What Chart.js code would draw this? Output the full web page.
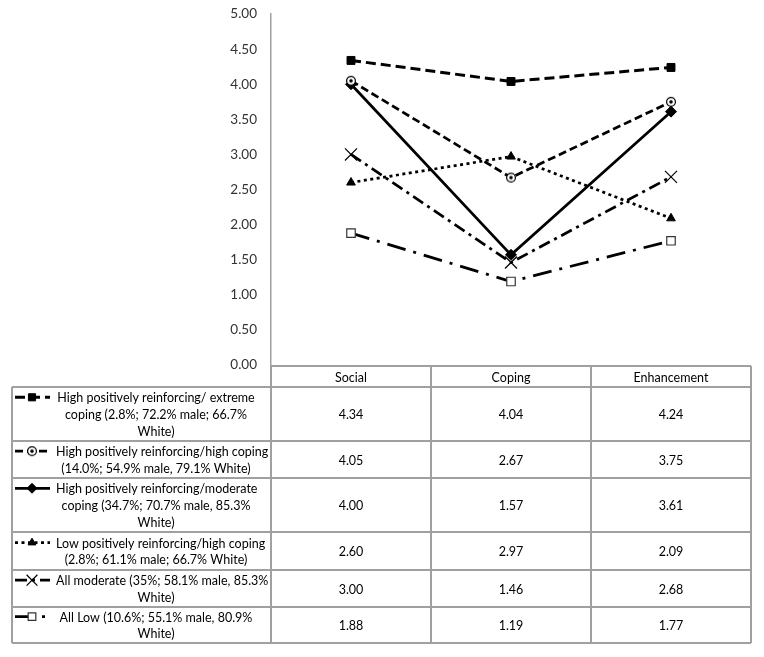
<!DOCTYPE html>
<html><head><meta charset="utf-8">
<script src="https://cdn.jsdelivr.net/npm/chart.js@4/dist/chart.umd.min.js"></script>
<style>html,body{margin:0;padding:0;background:#fff}#wrap{width:764px;height:657px;position:relative}canvas{display:block}</style>
</head><body><div id="wrap"><canvas id="c" width="764" height="657"></canvas></div>
<script>
// ---- data ----
const categories = ['Social', 'Coping', 'Enhancement'];
const highExtreme = [4.34, 4.04, 4.24];
const highHigh = [4.05, 2.67, 3.75];
const highModerate = [4.00, 1.57, 3.61];
const lowHigh = [2.60, 2.97, 2.09];
const allModerate = [3.00, 1.46, 2.68];
const allLow = [1.88, 1.19, 1.77];
const yTicks = [0, 0.5, 1, 1.5, 2, 2.5, 3, 3.5, 4, 4.5, 5];
const seriesLabels = [
  ['High positively reinforcing/ extreme', 'coping (2.8%; 72.2% male; 66.7%', 'White)'],
  ['High positively reinforcing/high coping', '(14.0%; 54.9% male, 79.1% White)'],
  ['High positively reinforcing/moderate', 'coping (34.7%; 70.7% male, 85.3%', 'White)'],
  ['Low positively reinforcing/high coping', '(2.8%; 61.1% male; 66.7% White)'],
  ['All moderate (35%; 58.1% male, 85.3%', 'White)'],
  ['All Low (10.6%; 55.1% male, 80.9%', 'White)']
];
const seriesValues = [highExtreme, highHigh, highModerate, lowHigh, allModerate, allLow];

// ---- styles ----
const FONT = 'Lato, "Liberation Sans", sans-serif';
function dotCircle() {
  const c = document.createElement('canvas');
  c.width = 12; c.height = 12;
  const g = c.getContext('2d');
  g.fillStyle = '#fff'; g.strokeStyle = '#000'; g.lineWidth = 1.2;
  g.beginPath(); g.arc(6, 6, 4.4, 0, Math.PI * 2); g.fill(); g.stroke();
  g.fillStyle = '#000';
  g.beginPath(); g.arc(6, 6, 1.8, 0, Math.PI * 2); g.fill();
  return c;
}
const styles = [
  {dash: [10, 5], width: 3, point: 'rect', radius: 5.6, bg: '#000', bc: '#000', bw: 1},
  {dash: [8, 4], width: 2.75, point: dotCircle(), radius: 6, bg: '#fff', bc: '#000', bw: 1},
  {dash: [], width: 2.75, point: 'rectRot', radius: 5.5, bg: '#000', bc: '#000', bw: 1},
  {dash: [3, 3.5], width: 2.75, point: 'triangle', radius: 5, bg: '#000', bc: '#000', bw: 1},
  {dash: [12, 5, 3, 5], width: 2.75, point: 'crossRot', radius: 8.5, bg: '#000', bc: '#000', bw: 1.2},
  {dash: [19, 8, 3, 8], width: 2.75, point: 'rect', radius: 6, bg: '#fff', bc: '#333', bw: 1.2}
];

const datasets = seriesValues.map((vals, i) => ({
  label: seriesLabels[i].join(' '),
  data: vals,
  borderColor: '#000',
  backgroundColor: styles[i].bg,
  borderWidth: styles[i].width,
  borderDash: styles[i].dash,
  borderCapStyle: 'butt',
  tension: 0,
  fill: false,
  pointStyle: styles[i].point,
  pointRadius: styles[i].radius,
  pointBackgroundColor: styles[i].bg,
  pointBorderColor: styles[i].bc,
  pointBorderWidth: styles[i].bw,
  pointHoverRadius: styles[i].radius
}));

const rowHeights = [21, 54, 37, 54, 38, 37, 36];
const tablePlugin = {
  id: 'dataTable',
  afterDraw(chart) {
    const ctx = chart.ctx;
    const xs = chart.scales.x;
    const top = 366;
    const left = 12;
    const half = (xs.getPixelForValue(1) - xs.getPixelForValue(0)) / 2;
    const colEdges = [left];
    categories.forEach((c, i) => colEdges.push(xs.getPixelForValue(i) - half));
    colEdges.push(xs.getPixelForValue(categories.length - 1) + half);
    const rowEdges = [top];
    rowHeights.forEach(h => rowEdges.push(rowEdges[rowEdges.length - 1] + h));
    ctx.save();
    ctx.strokeStyle = '#a0a0a0';
    ctx.lineWidth = 2;
    ctx.setLineDash([]);
    ctx.beginPath();
    ctx.moveTo(colEdges[1], rowEdges[0]); ctx.lineTo(colEdges[colEdges.length - 1], rowEdges[0]);
    for (let r = 1; r < rowEdges.length; r++) {
      ctx.moveTo(left, rowEdges[r]); ctx.lineTo(colEdges[colEdges.length - 1], rowEdges[r]);
    }
    ctx.moveTo(left, rowEdges[1]); ctx.lineTo(left, rowEdges[rowEdges.length - 1]);
    for (let c = 1; c < colEdges.length; c++) {
      ctx.moveTo(colEdges[c], rowEdges[0]); ctx.lineTo(colEdges[c], rowEdges[rowEdges.length - 1]);
    }
    ctx.stroke();

    ctx.fillStyle = '#000';
    ctx.font = '12.5px ' + FONT;
    ctx.textAlign = 'center';
    ctx.textBaseline = 'middle';
    categories.forEach((c, i) => {
      ctx.fillText(c, xs.getPixelForValue(i), (rowEdges[0] + rowEdges[1]) / 2 + 1);
    });
    const lineH = 16.7;
    seriesValues.forEach((vals, r) => {
      const y0 = rowEdges[r + 1], y1 = rowEdges[r + 2];
      const mid = (y0 + y1) / 2;
      vals.forEach((v, i) => {
        ctx.fillText(v.toFixed(2), xs.getPixelForValue(i), mid + 1);
      });
      const lines = seriesLabels[r];
      const firstY = mid - (lines.length - 1) * lineH / 2;
      ctx.textAlign = 'left';
      lines.forEach((ln, k) => {
        const w = ctx.measureText(ln).width;
        const x = Math.max(56, 156 - w / 2);
        ctx.fillText(ln, x, firstY + k * lineH + 1);
      });
      ctx.textAlign = 'center';
      const st = styles[r];
      ctx.save();
      ctx.strokeStyle = '#000';
      ctx.lineWidth = st.width;
      ctx.setLineDash(st.dash);
      ctx.beginPath();
      ctx.moveTo(15, firstY); ctx.lineTo(50, firstY);
      ctx.stroke();
      ctx.setLineDash([]);
      ctx.fillStyle = st.bg;
      ctx.strokeStyle = st.bc;
      ctx.lineWidth = st.bw;
      Chart.helpers.drawPoint(ctx, {pointStyle: st.point, radius: st.radius * 0.9, rotation: 0, borderWidth: st.bw}, 32, firstY);
      ctx.restore();
    });
    ctx.restore();
  }
};

new Chart(document.getElementById('c'), {
  type: 'line',
  data: {labels: categories, datasets},
  options: {
    responsive: false,
    animation: false,
    devicePixelRatio: 1,
    layout: {padding: {left: 0, right: 13, top: 14, bottom: 292}},
    plugins: {legend: {display: false}, tooltip: {enabled: false}},
    scales: {
      x: {type: 'category', offset: true, display: false},
      y: {
        min: 0, max: 5,
        afterFit(s) { s.width = 271; },
        afterBuildTicks(s) { s.ticks = yTicks.map(v => ({value: v})); },
        grid: {display: false},
        border: {display: true, color: '#a0a0a0', width: 1.5},
        ticks: {
          padding: 6,
          color: '#333',
          font: {family: FONT, size: 13.5},
          callback: v => Number(v).toFixed(2)
        }
      }
    }
  },
  plugins: [tablePlugin]
});
</script>
</body></html>
